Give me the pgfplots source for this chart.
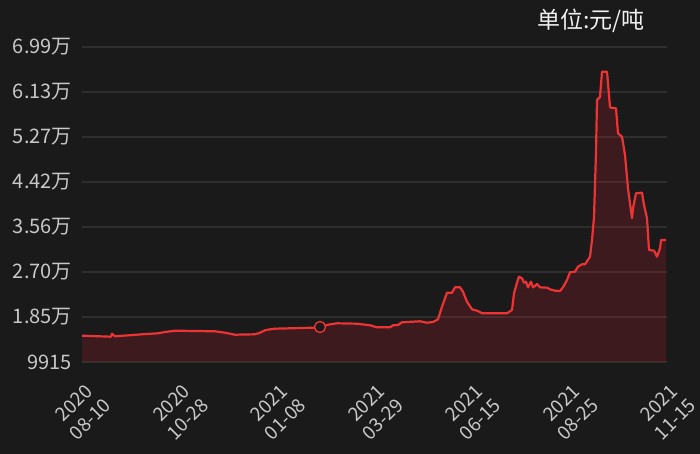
\documentclass[border=0pt]{standalone}
\usepackage{pgfplots}
\pgfplotsset{compat=1.18}
\usepackage{pgfplotstable}
\usepackage{fontspec}
\setmainfont{Noto Sans CJK SC}
\definecolor{bg}{RGB}{26,26,26}
\definecolor{gridc}{RGB}{46,46,46}
\definecolor{linec}{RGB}{236,52,52}
\definecolor{fillc}{RGB}{190,28,48}
\definecolor{tickc}{RGB}{200,200,200}
\pgfplotstableread{
x y
0 14923
29 14733
30 15304
33 14809
60 15190
76 15380
83 15628
93 15875
133 15761
143 15495
153 15114
173 15190
178 15495
183 15952
188 16142
193 16256
231 16447
238 16580
246 17018
255 17285
275 17208
288 16904
295 16523
308 16523
311 16904
316 16961
320 17475
338 17666
345 17399
351 17532
356 18046
360 20446
365 23112
370 23112
373 24140
378 24140
381 23302
385 21398
390 19951
396 19627
400 19189
425 19189
430 19817
432 22998
435 25016
437 26159
440 25854
442 25016
444 25207
446 24140
449 25207
451 24140
453 24388
455 24769
458 24140
465 24064
468 23759
473 23493
478 23436
481 24140
485 25530
488 26997
493 27111
496 28063
500 28520
503 28520
508 29967
510 33147
512 37526
514 49905
515 59808
518 60380
520 65197
525 65197
528 58474
529 58341
534 58227
536 53466
540 52819
543 49334
546 42993
550 37280
551 39184
554 42041
560 42155
562 39813
565 37280
567 31243
572 31110
575 29967
578 31567
579 33147
584 33147
}\pricedata
\begin{document}
\begin{tikzpicture}
\useasboundingbox (0,0) rectangle (700pt,454pt);
\fill[bg] (0,0) rectangle (700pt,454pt);
\begin{axis}[
  at={(82pt,92pt)}, anchor=south west,
  scale only axis, width=585pt, height=315pt,
  xmin=0, xmax=585, ymin=9915, ymax=69900,
  axis line style={draw=none},
  clip=false,
  scaled y ticks=false, scaled x ticks=false,
  ymajorgrids, major grid style={gridc, line width=1.6pt},
  major tick length=0pt,
  ytick={9915,18484,27054,35623,44192,52762,61331,69900},
  yticklabels={9915,1.85万,2.70万,3.56万,4.42万,5.27万,6.13万,6.99万},
  xtick={0,97.5,195,292.5,390,487.5,585},
  xticklabels={{2020\\08-10},{2020\\10-28},{2021\\01-08},{2021\\03-29},{2021\\06-15},{2021\\08-25},{2021\\11-15}},
  /pgf/number format/assume math mode=true,
  yticklabel style={font=\fontsize{20pt}{22pt}\selectfont, text=tickc, anchor=east, inner sep=0pt, xshift=-10pt},
  xticklabel style={font=\fontsize{19pt}{23pt}\selectfont, text=tickc, align=center, anchor=center, inner sep=0pt, yshift=-49pt, rotate=45},
]
\addplot[draw=none, fill=fillc, fill opacity=0.21] table[x=x,y=y] {\pricedata} -- (axis cs:584,9915) -- (axis cs:0,9915) -- cycle;
\addplot[linec, line width=2.2pt, line join=round] table[x=x,y=y] {\pricedata};
\addplot[only marks, mark=*, mark size=5.5pt, mark options={fill=bg, draw=linec, line width=1.4pt}] coordinates {(238,16580)};
\end{axis}
\node[text=white!94!black, font=\fontsize{23pt}{25pt}\selectfont, anchor=center] at (591pt,433pt) {单位:元/吨};
\end{tikzpicture}
\end{document}
